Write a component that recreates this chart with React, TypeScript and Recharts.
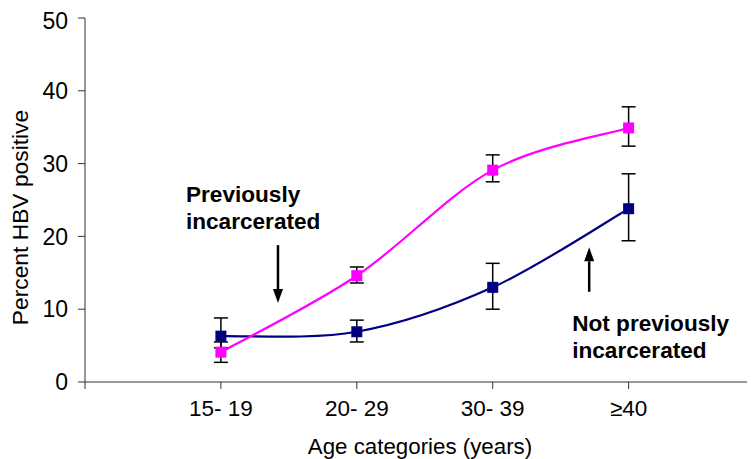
import React from 'react';
import { ComposedChart, Line, XAxis, YAxis, ErrorBar, ReferenceLine, ReferenceDot } from 'recharts';

const categories = ['15- 19', '20- 29', '30- 39', '≥40'];
const previouslyIncarcerated = [4.1, 14.6, 29.1, 34.9];
const previouslyLow = [2.7, 13.6, 27.5, 32.4];
const previouslyHigh = [5.5, 15.8, 31.2, 37.8];
const notPreviously = [6.3, 6.9, 13.0, 23.8];
const notPreviouslyLow = [4.7, 5.5, 10.0, 19.4];
const notPreviouslyHigh = [8.8, 8.5, 16.3, 28.6];
const yTicks = [0, 10, 20, 30, 40, 50];
const xTicks = [0, 1, 2, 3, 4];

const data = categories.map((c, i) => ({
  pos: i + 1,
  cat: c,
  prev: previouslyIncarcerated[i],
  prevErr: [previouslyIncarcerated[i] - previouslyLow[i], previouslyHigh[i] - previouslyIncarcerated[i]],
  notPrev: notPreviously[i],
  notPrevErr: [notPreviously[i] - notPreviouslyLow[i], notPreviouslyHigh[i] - notPreviously[i]],
}));

const FONT = '"Liberation Sans", Arial, Helvetica, sans-serif';
const PINK = '#FF00FF';
const NAVY = '#000080';

// Excel-style smoothed line (Catmull-Rom as cubic Bezier)
function excelSmooth(context: any) {
  let pts: number[][] = [];
  return {
    areaStart() {},
    areaEnd() {},
    lineStart() {
      pts = [];
    },
    point(x: number, y: number) {
      pts.push([+x, +y]);
    },
    lineEnd() {
      const n = pts.length;
      if (!n) return;
      context.moveTo(pts[0][0], pts[0][1]);
      for (let i = 0; i < n - 1; i++) {
        const p0 = pts[Math.max(i - 1, 0)];
        const p1 = pts[i];
        const p2 = pts[i + 1];
        const p3 = pts[Math.min(i + 2, n - 1)];
        context.bezierCurveTo(
          p1[0] + (p2[0] - p0[0]) / 6,
          p1[1] + (p2[1] - p0[1]) / 6,
          p2[0] - (p3[0] - p1[0]) / 6,
          p2[1] - (p3[1] - p1[1]) / 6,
          p2[0],
          p2[1]
        );
      }
    },
  };
}

const square = (color: string) => (props: any) => {
  const { cx, cy, index } = props;
  if (cx == null || cy == null) return <g key={index} />;
  const s = 11;
  return <rect key={index} x={cx - s / 2} y={cy - s / 2} width={s} height={s} fill={color} />;
};

const arrow = (props: any) => {
  const { x1, y1, x2, y2 } = props;
  const dir = y2 > y1 ? 1 : -1;
  const head = 14;
  const hw = 5;
  return (
    <g>
      <line x1={x1} y1={y1} x2={x2} y2={y2 - dir * head} stroke="#000" strokeWidth={2.5} />
      <polygon points={`${x2 - hw},${y2 - dir * head} ${x2 + hw},${y2 - dir * head} ${x2},${y2}`} fill="#000" />
    </g>
  );
};

const annotation = (lines: string[]) => (props: any) => {
  const { cx, cy } = props;
  return (
    <text x={cx} y={cy} fontFamily={FONT} fontWeight="bold" fontSize={22.6} fill="#000">
      {lines.map((l, i) => (
        <tspan key={i} x={cx} dy={i === 0 ? 0 : 26.5}>{l}</tspan>
      ))}
    </text>
  );
};

export default function App() {
  return (
    <div style={{ width: 747, height: 451 }}>
      <ComposedChart width={747} height={451} data={data} margin={{ top: 10, right: 0, bottom: 0, left: 0 }}>
        <XAxis
          dataKey="pos"
          type="number"
          domain={[0, 4.93]}
          ticks={xTicks}
          allowDataOverflow
          tickFormatter={(v: number) => (v >= 1 && v <= 4 ? categories[v - 1] : '')}
          stroke="#333"
          tickSize={7}
          tickMargin={11}
          height={77}
          tick={{ fill: '#000', fontSize: 22.5, fontFamily: FONT }}
          label={{ value: 'Age categories (years)', position: 'insideBottom', offset: 5, fill: '#000', fontSize: 22.3, fontFamily: FONT }}
        />
        <YAxis
          type="number"
          domain={[0, 50]}
          ticks={yTicks}
          stroke="#333"
          tickSize={7}
          tickMargin={10}
          width={77}
          tick={{ fill: '#000', fontSize: 23, fontFamily: FONT }}
          label={{
            content: () => (
              <text x={12} y={209.5} transform="rotate(-90 12 209.5)" textAnchor="middle" dominantBaseline="central" fontFamily={FONT} fontSize={22.8} fill="#000">
                Percent HBV positive
              </text>
            ),
          }}
        />
        <Line
          dataKey="notPrev"
          type={excelSmooth as any}
          stroke={NAVY}
          strokeWidth={2.2}
          dot={square(NAVY)}
          activeDot={false}
          isAnimationActive={false}
        >
          <ErrorBar dataKey="notPrevErr" width={7} stroke="#000" strokeWidth={1.5} direction="y" />
        </Line>
        <Line
          dataKey="prev"
          type={excelSmooth as any}
          stroke={PINK}
          strokeWidth={2.2}
          dot={square(PINK)}
          activeDot={false}
          isAnimationActive={false}
        >
          <ErrorBar dataKey="prevErr" width={7} stroke="#000" strokeWidth={1.5} direction="y" />
        </Line>
        <ReferenceLine segment={[{ x: 1.42, y: 18.8 }, { x: 1.42, y: 10.85 }]} shape={arrow} />
        <ReferenceLine segment={[{ x: 3.71, y: 12.4 }, { x: 3.71, y: 18.5 }]} shape={arrow} />
        <ReferenceDot x={0.743} y={24.7} r={0} shape={annotation(['Previously', 'incarcerated'])} />
        <ReferenceDot x={3.585} y={7.0} r={0} shape={annotation(['Not previously', 'incarcerated'])} />
      </ComposedChart>
    </div>
  );
}
